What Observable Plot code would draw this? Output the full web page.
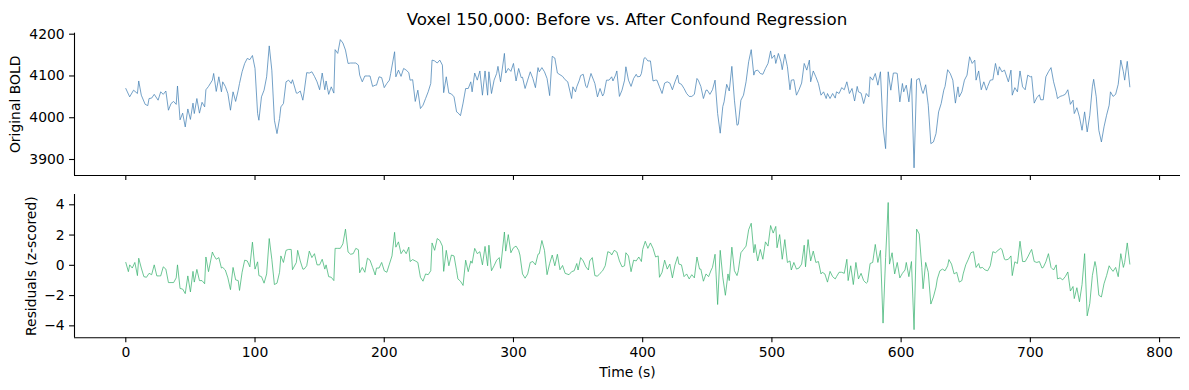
<!DOCTYPE html>
<html><head><meta charset="utf-8">
<script src="https://cdn.jsdelivr.net/npm/d3@7"></script>
<script src="https://cdn.jsdelivr.net/npm/@observablehq/plot@0.6"></script>
<style>
body{margin:0;background:#fff;}
#fig{position:relative;width:1189px;height:390px;font-family:"DejaVu Sans",sans-serif;background:#fff;}
#title{position:absolute;left:627px;top:11px;transform:translateX(-50%);white-space:nowrap;font-size:16.7px;line-height:16.7px;color:#000;}
#top{position:absolute;left:0;top:28px;}
#bot{position:absolute;left:0;top:185px;}
</style></head>
<body>
<div id="fig"><div id="title"></div><div id="top"></div><div id="bot"></div></div>
<script>
const titleText = "Voxel 150,000: Before vs. After Confound Regression";
const yLabelTop = "Original BOLD";
const yLabelBottom = "Residuals (z-scored)";
const xLabel = "Time (s)";
const timeTicks = [0, 100, 200, 300, 400, 500, 600, 700, 800];
const boldTicks = [3900, 4000, 4100, 4200];
const residTicks = [-4, -2, 0, 2, 4];

// [time (s), original BOLD]
const boldSeries = [[0,4070],[3,4050],[6,4066],[9,4058],[10,4088],[12,4054],[15,4032],[17,4029],[18,4046],[20,4047],[22,4056],[25,4042],[27,4062],[29,4056],[31,4064],[33,4018],[35,4034],[37,4039],[39,4032],[40,4076],[42,3995],[44,4011],[46,3978],[48,4021],[50,3996],[52,4035],[53,4010],[55,4046],[57,4011],[59,4037],[61,4026],[62,4067],[64,4075],[67,4090],[68,4106],[70,4063],[72,4098],[74,4062],[75,4086],[77,4075],[79,4058],[81,4018],[83,4062],[85,4039],[87,4066],[88,4082],[90,4110],[92,4130],[94,4142],[96,4139],[98,4149],[100,4118],[102,4010],[103,3994],[105,4050],[107,4066],[109,4098],[111,4172],[113,4114],[115,3994],[117,3962],[119,3998],[120,4026],[122,4034],[124,4086],[126,4090],[128,4082],[129,4091],[132,4059],[133,4059],[135,4064],[137,4042],[138,4062],[140,4108],[142,4107],[144,4110],[146,4099],[148,4086],[150,4067],[152,4107],[154,4067],[155,4088],[156,4072],[157,4056],[159,4074],[161,4059],[162,4163],[164,4154],[166,4187],[168,4179],[170,4162],
[172,4130],[174,4131],[176,4131],[178,4131],[180,4126],[181,4102],[183,4086],[185,4100],[187,4100],[189,4100],[191,4075],[193,4078],[194,4078],[196,4098],[198,4096],[200,4072],[202,4082],[204,4090],[205,4106],[208,4158],[209,4098],[211,4114],[213,4099],[215,4118],[217,4114],[219,4108],[220,4090],[222,4091],[224,4039],[226,4066],[228,4022],[230,4030],[232,4046],[234,4062],[236,4082],[237,4138],[239,4136],[241,4131],[243,4138],[245,4126],[246,4060],[248,4098],[250,4059],[252,4057],[254,4050],[256,4014],[257,4012],[259,4005],[261,4035],[263,4070],[265,4070],[267,4086],[268,4062],[270,4107],[272,4090],[274,4112],[276,4054],[278,4112],[280,4054],[281,4110],[283,4058],[285,4090],[287,4106],[288,4123],[290,4086],[293,4154],[294,4107],[296,4118],[298,4111],[300,4130],[302,4088],[304,4118],[306,4096],[307,4097],[309,4070],[311,4090],[313,4110],[315,4094],[317,4072],[319,4120],[320,4110],[322,4120],[324,4110],[326,4094],[328,4053],[330,4147],[332,4143],[334,4107],[336,4103],[338,4099],[340,4091],
[342,4086],[345,4046],[346,4074],[348,4062],[349,4074],[351,4090],[352,4101],[354,4104],[356,4075],[357,4072],[360,4106],[362,4090],[363,4082],[365,4050],[367,4070],[369,4052],[370,4058],[372,4090],[374,4090],[376,4098],[377,4088],[379,4102],[380,4112],[382,4051],[384,4066],[386,4090],[387,4122],[389,4090],[391,4075],[393,4094],[395,4104],[396,4098],[398,4099],[399,4106],[401,4142],[402,4144],[404,4136],[406,4136],[408,4088],[410,4090],[411,4090],[413,4074],[415,4058],[417,4083],[419,4086],[421,4083],[423,4067],[425,4086],[427,4102],[428,4083],[430,4080],[432,4070],[434,4058],[436,4051],[438,4051],[440,4056],[442,4094],[443,4090],[445,4075],[447,4046],[449,4066],[450,4066],[452,4056],[454,4067],[456,4090],[458,4010],[460,3963],[462,4027],[463,4038],[465,4080],[467,4064],[469,4123],[471,4042],[473,3982],[474,3984],[476,4042],[478,4054],[480,4086],[482,4134],[484,4163],[486,4102],[487,4112],[489,4114],[491,4106],[493,4104],[495,4118],[497,4130],[499,4160],[500,4142],[502,4150],[503,4130],[505,4154],[507,4134],[508,4115],[510,4152],[512,4122],
[514,4067],[515,4090],[517,4091],[519,4054],[521,4067],[523,4083],[525,4130],[527,4114],[529,4138],[530,4086],[532,4112],[534,4098],[536,4082],[538,4054],[540,4062],[542,4046],[543,4058],[545,4046],[547,4058],[549,4047],[550,4062],[552,4058],[554,4072],[556,4067],[558,4086],[560,4058],[562,4070],[564,4040],[566,4075],[567,4062],[569,4059],[571,4034],[573,4058],[575,4050],[576,4098],[578,4090],[580,4106],[582,4078],[584,4110],[586,3978],[588,3926],[590,4110],[592,4066],[594,4107],[596,4107],[597,4106],[599,4038],[601,4082],[602,4062],[604,4078],[606,4038],[608,4094],[610,3880],[612,4091],[614,4094],[616,4066],[617,4058],[619,4079],[621,4030],[623,3938],[625,3942],[627,3962],[629,4014],[631,4034],[633,4066],[634,4075],[636,4115],[638,4106],[640,4090],[642,4035],[644,4074],[645,4050],[647,4062],[649,4090],[651,4102],[653,4146],[655,4130],[657,4138],[658,4090],[660,4112],[662,4067],[664,4086],[666,4066],[667,4075],[669,4090],[671,4091],[673,4130],[675,4102],[676,4122],[678,4110],[680,4114],
[683,4086],[685,4114],[686,4054],[688,4072],[690,4062],[692,4112],[694,4074],[696,4067],[698,4102],[700,4098],[701,4099],[703,4035],[705,4048],[707,4055],[708,4043],[710,4043],[712,4098],[714,4110],[716,4120],[718,4086],[720,4062],[721,4046],[723,4051],[725,4053],[727,4056],[729,4067],[731,4032],[733,4042],[734,4010],[736,4024],[738,4002],[740,3970],[742,4014],[744,3966],[746,4006],[748,4074],[749,4092],[751,4050],[753,3970],[755,3942],[757,3978],[759,4006],[761,4030],[762,4062],[764,4051],[766,4056],[768,4080],[770,4138],[772,4110],[773,4090],[775,4135],[777,4074]];

// [time (s), residual z-score]
const residSeries = [[0,0.19],[2,-0.42],[3,0.03],[5,-0.18],[7,0.19],[9,-0.68],[10,0.47],[12,-0.18],[14,-0.75],[16,-0.79],[18,-0.53],[20,-0.62],[22,0.03],[24,-0.70],[26,-0.70],[27,-0.70],[29,-0.10],[31,-0.25],[33,-1.14],[35,-1.14],[37,-1.14],[39,-0.83],[40,0.03],[42,-1.53],[44,-1.57],[46,-1.87],[48,-0.70],[50,-1.76],[52,-0.40],[53,-1.11],[55,-0.27],[57,-1.01],[59,-1.01],[61,-1.22],[62,0.55],[64,-0.42],[67,0.88],[68,0.68],[70,0.40],[72,0.51],[74,-0.18],[75,-0.14],[77,-0.31],[79,-0.83],[81,-1.61],[83,-0.14],[85,-0.96],[87,-1.01],[88,-1.66],[90,-0.46],[92,0.34],[94,0.29],[96,-0.10],[98,1.53],[100,-0.25],[102,0.23],[103,-0.68],[105,-0.75],[107,-1.18],[109,-0.57],[111,1.77],[113,0.40],[115,-1.27],[117,-1.18],[119,-0.46],[120,0.62],[122,0.19],[124,0.99],[126,1.05],[128,1.05],[129,-0.29],[132,0.19],[133,0.99],[135,0.29],[137,-0.25],[138,-0.25],[140,-0.03],[142,0.94],[144,0.51],[146,0.77],[148,0.03],[150,0.03],[152,0.40],[154,-0.25],[155,0.03],[157,-0.75],[159,-0.79],[161,-1.01],[162,1.12],[164,1.12],[166,1.12],[168,1.42],[170,2.39],
[172,0.88],[174,0.73],[176,0.77],[178,1.12],[180,1.03],[181,-0.49],[183,-0.14],[185,-0.46],[187,0.47],[189,0.34],[191,-0.14],[193,-0.64],[194,-0.18],[196,-0.18],[198,0.19],[200,-0.36],[202,-0.46],[204,0.08],[206,0.62],[208,2.18],[209,1.20],[211,1.55],[213,0.77],[215,1.03],[217,0.77],[219,1.20],[220,0.25],[222,0.38],[224,0.29],[226,0.19],[228,-0.79],[230,-1.05],[232,-0.57],[234,-0.62],[236,-0.36],[237,1.48],[239,0.99],[241,1.77],[243,1.64],[245,1.27],[246,-0.40],[248,0.99],[250,-0.03],[252,0.68],[254,0.62],[256,-0.36],[257,-0.90],[259,-1.05],[261,-1.33],[263,0.34],[265,-0.42],[267,0.29],[268,0.14],[270,1.12],[272,0.77],[274,0.90],[276,0.03],[278,1.25],[280,-0.03],[281,1.33],[283,-0.36],[285,-0.03],[287,0.34],[289,0.51],[290,-0.20],[293,2.20],[294,0.94],[296,2.03],[298,0.83],[300,1.16],[302,1.27],[304,0.99],[305,0.68],[307,-0.57],[309,-0.85],[311,-0.57],[313,0.19],[315,0.25],[317,0.03],[319,0.73],[320,0.77],[322,1.64],[324,0.99],[326,-0.62],[328,0.12],[330,0.68],[332,-0.03],[334,0.73],[336,-0.29],[338,-0.01],[340,-0.53],
[343,-0.62],[345,-0.42],[347,-0.36],[349,0.12],[350,-0.31],[352,0.51],[354,0.29],[356,-0.10],[358,-0.31],[359,0.29],[361,0.51],[363,-0.68],[365,-0.72],[367,-0.53],[369,-0.36],[371,-0.03],[373,0.90],[375,0.83],[376,0.68],[378,0.99],[380,0.88],[382,0.29],[384,-0.10],[386,-0.03],[387,0.83],[389,0.62],[391,-0.42],[393,0.34],[395,0.29],[397,0.55],[399,0.25],[400,1.05],[402,1.59],[404,1.12],[406,1.48],[408,1.12],[410,0.55],[412,0.62],[413,-0.79],[415,-0.46],[417,0.34],[419,-0.25],[421,0.08],[423,-0.83],[425,0.03],[427,0.57],[428,0.08],[430,0.03],[432,-0.75],[434,-0.57],[436,-0.90],[438,-0.62],[440,-0.83],[442,0.55],[444,-0.25],[445,-0.25],[447,-1.05],[449,-0.57],[451,-0.75],[453,-0.31],[454,-0.14],[456,0.73],[458,-2.59],[460,0.99],[462,-0.79],[464,-1.98],[466,-0.57],[467,-1.01],[469,1.20],[471,-0.36],[473,-0.68],[474,-0.36],[476,0.83],[478,1.05],[480,1.27],[482,2.35],[484,2.78],[486,0.83],[487,1.38],[489,0.29],[491,1.05],[493,0.40],[495,1.55],[497,1.27],[499,2.63],[501,2.13],[503,2.57],[504,1.16],[506,2.03],[508,0.40],[510,1.70],[512,0.19],
[514,0.29],[515,-0.31],[517,0.19],[519,-0.25],[521,-0.18],[523,0.08],[525,1.33],[526,-0.10],[528,1.70],[530,0.29],[532,0.94],[534,0.19],[536,0.25],[538,-0.57],[539,-0.46],[541,-0.57],[543,-1.11],[545,-0.40],[547,-0.75],[549,-0.90],[550,-0.75],[552,-0.46],[554,-0.46],[556,-0.53],[558,0.40],[559,-1.01],[561,-0.03],[563,-1.27],[565,0.19],[567,-0.90],[569,-0.53],[571,-1.01],[573,-1.18],[574,-1.11],[576,0.12],[578,0.19],[580,1.38],[582,0.19],[584,0.99],[586,-3.82],[588,0.51],[590,4.15],[591,0.08],[593,0.83],[595,-0.57],[597,0.19],[599,-0.83],[601,-0.53],[603,-0.31],[604,0.19],[606,-0.75],[608,0.25],[610,-4.25],[612,2.39],[614,2.07],[616,-0.14],[617,-1.55],[619,0.19],[621,-0.46],[623,-2.56],[625,-2.09],[627,-1.44],[628,-0.90],[630,-0.36],[632,-0.25],[634,-0.36],[636,-0.03],[637,0.38],[639,0.08],[641,-0.57],[643,-0.46],[645,-1.11],[647,-1.01],[648,-0.57],[650,0.03],[652,0.40],[654,0.83],[656,0.90],[658,-0.14],[660,0.12],[661,-0.18],[663,-0.14],[665,-0.31],[667,-0.36],[669,-0.03],[671,0.90],[673,0.83],[675,0.99],[677,1.12],[678,1.05],[680,0.40],
[681,0.36],[683,0.40],[685,0.62],[686,-0.68],[688,0.23],[690,0.12],[692,1.59],[694,0.25],[696,0.25],[698,0.55],[700,0.90],[701,1.05],[703,0.25],[705,0.19],[707,0.25],[709,-0.18],[710,-0.14],[712,0.23],[714,0.77],[716,-0.14],[718,-0.31],[720,0.03],[721,-0.90],[723,-0.83],[725,-0.96],[727,-0.75],[729,-0.44],[731,-1.70],[733,-1.40],[734,-2.20],[736,-1.48],[738,-2.41],[740,-1.27],[742,0.77],[744,-3.34],[746,-2.52],[748,-0.68],[750,0.25],[751,-0.14],[753,-1.98],[755,-2.09],[757,-1.22],[759,-0.68],[761,-0.03],[762,-0.18],[764,-0.40],[766,-0.14],[768,-0.75],[770,0.77],[772,-0.14],[773,0.19],[775,1.48],[777,0.08]];

document.getElementById("title").textContent = titleText;

const xDomain = [-39.7, 816.2];
const topDomain = [3861.7, 4202.4];
const botDomain = [-4.79, 4.68];
const fmt = d => d < 0 ? "\u2212" + Math.abs(d) : String(d);
const style = {fontFamily: "DejaVu Sans, sans-serif", fontSize: "13.9px", color: "#000", background: "#fff", overflow: "visible"};

const topRows = boldSeries.map(([t, v]) => ({t, v}));
const botRows = residSeries.map(([t, v]) => ({t, v}));

const topPlot = Plot.plot({
  width: 1189, height: 157,
  marginTop: 4.7, marginBottom: 10, marginLeft: 74, marginRight: 9,
  style,
  x: {domain: xDomain},
  y: {domain: topDomain},
  marks: [
    Plot.line(topRows, {x: "t", y: "v", stroke: "#4682b4", strokeWidth: 0.75}),
    Plot.axisY({ticks: boldTicks, tickSize: 4.9, tickPadding: 4.9, tickFormat: fmt, label: null, strokeWidth: 1.1}),
    Plot.axisX({ticks: timeTicks, tickSize: 4.9, tickPadding: 4.9, tickFormat: () => "", label: null, strokeWidth: 1.1}),
    Plot.ruleX([xDomain[0]], {strokeWidth: 1.1, stroke: "#000"}),
    Plot.ruleY([topDomain[0]], {strokeWidth: 1.1, stroke: "#000"}),
    Plot.text([yLabelTop], {text: d => d, frameAnchor: "left", textAnchor: "middle", rotate: -90, dx: -58.5, fill: "#000"})
  ]
});

const botPlot = Plot.plot({
  width: 1189, height: 205,
  marginTop: 9, marginBottom: 52.7, marginLeft: 74, marginRight: 9,
  style,
  x: {domain: xDomain},
  y: {domain: botDomain},
  marks: [
    Plot.line(botRows, {x: "t", y: "v", stroke: "#3cb371", strokeWidth: 0.75}),
    Plot.axisY({ticks: residTicks, tickSize: 4.9, tickPadding: 4.9, tickFormat: fmt, label: null, strokeWidth: 1.1}),
    Plot.axisX({ticks: timeTicks, tickSize: 4.9, tickPadding: 4.9, tickFormat: fmt, label: null, strokeWidth: 1.1}),
    Plot.ruleX([xDomain[0]], {strokeWidth: 1.1, stroke: "#000"}),
    Plot.ruleY([botDomain[0]], {strokeWidth: 1.1, stroke: "#000"}),
    Plot.text([yLabelBottom], {text: d => d, frameAnchor: "left", textAnchor: "middle", rotate: -90, dx: -43, fill: "#000"}),
    Plot.text([xLabel], {text: d => d, frameAnchor: "bottom", lineAnchor: "top", dy: 29, fill: "#000"})
  ]
});

document.getElementById("top").appendChild(topPlot);
document.getElementById("bot").appendChild(botPlot);
</script>
</body></html>
